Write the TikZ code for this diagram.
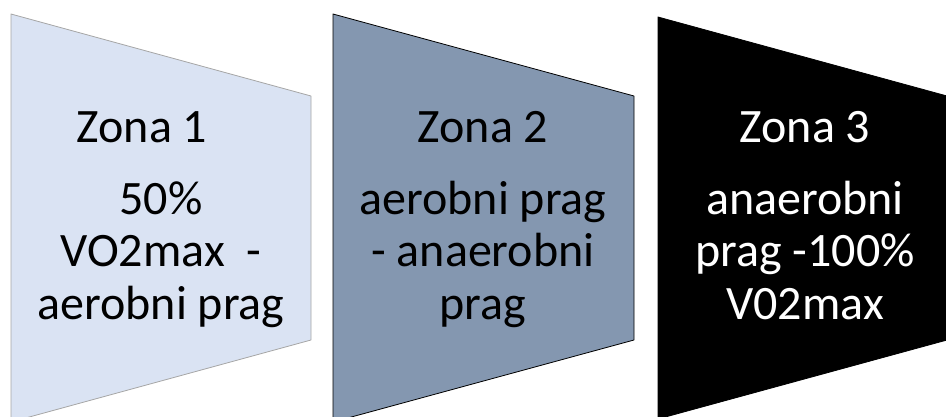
\documentclass[tikz,border=0pt]{standalone}
\usepackage{fontspec}
\setmainfont{Carlito}
\usepackage{tikz}
\definecolor{zonelight}{HTML}{DAE3F3}
\definecolor{zonemid}{HTML}{8497B0}
\definecolor{zoneedge}{HTML}{A6A6A6}

\begin{document}
\begin{tikzpicture}[line cap=round,line join=round,x=1pt,y=-1pt,
  zonetext/.style={align=center,anchor=base,inner sep=0pt,font=\fontsize{48}{52.5}\selectfont}]
\useasboundingbox (0,0) rectangle (946,416);
\clip (0,0) rectangle (946,416);
% zona 1
\draw [fill=zonelight,draw=zoneedge,line width=0.8pt] (11,14)-- (311,96)-- (311,340)-- (11,422)-- cycle;
\node [zonetext] (zona1) at (142,142) {Zona 1};
\node [zonetext] (opis1) at (161,319) {50\%\\VO2max\ \ -\\aerobni prag};
% zona 2
\draw [fill=zonemid,draw=black,line width=0.8pt] (333,14)-- (634,96)-- (634,340)-- (333,422)-- cycle;
\node [zonetext] (zona2) at (483,142) {Zona 2};
\node [zonetext] (opis2) at (483,319) {aerobni prag\\- anaerobni\\prag};
% zona 3
\draw [fill=black,draw=black,line width=0.8pt] (658,17)-- (958,99)-- (958,337)-- (658,419)-- cycle;
\node [zonetext,text=white] (zona3) at (805,142) {Zona 3};
\node [zonetext,text=white] (opis3) at (805,319) {anaerobni\\prag -100\%\\V02max};
\end{tikzpicture}
\end{document}
